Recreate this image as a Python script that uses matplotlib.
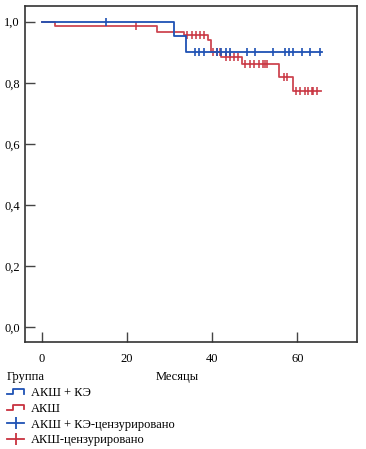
import numpy as np
import matplotlib.pyplot as plt
from matplotlib.lines import Line2D
from matplotlib.legend_handler import HandlerBase
from matplotlib.ticker import FuncFormatter

plt.rcParams['font.family'] = ['Liberation Serif', 'DejaVu Serif']

# АКШ + КЭ: ступенчатая кривая выживаемости
t_ake = [0, 31.1, 33.9, 65.8]
s_ake = [1.0, 0.952, 0.900, 0.900]
cens_ake_t = [15.1, 36.0, 37.0, 38.1, 41.1, 42.0, 43.2, 44.1, 48.2, 50.1,
              54.2, 57.2, 58.0, 59.1, 61.1, 63.1, 65.4]
cens_ake_s = [1.0] + [0.900] * 16

# АКШ
t_ak = [0, 3.1, 27.1, 33.3, 39.0, 39.8, 42.0, 46.9, 55.7, 59.1, 65.6]
s_ak = [1.0, 0.987, 0.967, 0.958, 0.939, 0.900, 0.884, 0.862, 0.819, 0.772, 0.772]
cens_ak_t = [22.1, 34.2, 35.2, 36.2, 37.2, 38.0, 40.2, 41.1, 41.9,
             43.2, 44.2, 45.2, 46.1, 47.8, 48.9, 49.9, 50.9, 51.9, 52.5, 53.0,
             56.8, 57.7, 59.7, 60.7, 61.7, 62.6, 63.4, 63.8, 64.6]
cens_ak_s = ([0.987] + [0.958] * 5 + [0.900] * 3 + [0.884] * 4 + [0.862] * 7
             + [0.819] * 2 + [0.772] * 7)

blue = '#1f52b4'
red = '#c8323f'

fig = plt.figure(figsize=(3.66, 4.49), dpi=100)
ax = fig.add_axes([0.068, 0.238, 0.907, 0.749])

ax.step(t_ake, s_ake, where='post', color=blue, lw=1.3, zorder=3)
ax.step(t_ak, s_ak, where='post', color=red, lw=1.3, alpha=0.9, zorder=2)
ax.plot(cens_ake_t, cens_ake_s, ls='none', marker='|', ms=6, mew=1.2, color=blue, zorder=3)
ax.plot(cens_ak_t, cens_ak_s, ls='none', marker='|', ms=6, mew=1.2, color=red, alpha=0.9, zorder=2)

ax.set_xlim(-4, 74)
ax.set_ylim(-0.05, 1.052)
ax.set_xticks([0, 20, 40, 60])
ax.set_yticks([0, 0.2, 0.4, 0.6, 0.8, 1.0])
ax.yaxis.set_major_formatter(FuncFormatter(lambda v, p: f'{v:.1f}'.replace('.', ',')))
ax.tick_params(direction='in', length=7, width=1, colors='#444444', labelcolor='black',
               labelsize=9)
ax.tick_params(axis='x', pad=8)
for sp in ax.spines.values():
    sp.set_color('#333333')
    sp.set_linewidth(1.2)
ax.set_xlabel('Месяцы', fontsize=9, labelpad=2)
ax.xaxis.set_label_coords(0.46, -0.085)


class StepHandler(HandlerBase):
    def create_artists(self, legend, orig, x0, y0, w, h, fs, trans):
        xs = np.array([0, 0.35, 0.35, 1.0, 1.0]) * w + x0
        ys = np.array([0.2, 0.2, 0.8, 0.8, 0.3]) * h + y0
        ln = Line2D(xs, ys, color=orig.get_color(), lw=1.3, transform=trans)
        return [ln]


h1 = Line2D([], [], color=blue)
h2 = Line2D([], [], color=red)
h3 = Line2D([], [], color=blue, marker='|', ms=8, mew=1.3, lw=1.3)
h4 = Line2D([], [], color=red, marker='|', ms=8, mew=1.3, lw=1.3)
leg = fig.legend([h1, h2, h3, h4],
                 ['АКШ + КЭ', 'АКШ', 'АКШ + КЭ-цензурировано', 'АКШ-цензурировано'],
                 handler_map={h1: StepHandler(), h2: StepHandler()},
                 title='Группа', title_fontsize=9, fontsize=9, alignment='left',
                 loc='upper left', bbox_to_anchor=(0.005, 0.184), frameon=False,
                 handlelength=1.4, handletextpad=0.5, labelspacing=0.3, borderaxespad=0)

fig.savefig('out.png', dpi=100)
